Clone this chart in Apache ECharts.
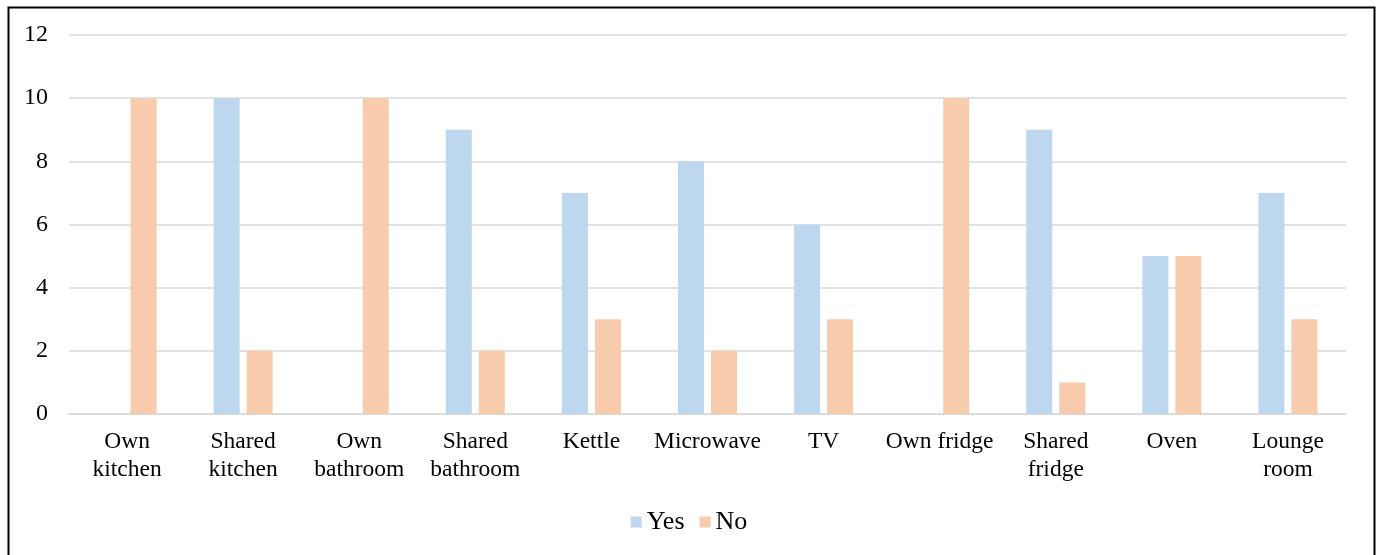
<!DOCTYPE html>
<html>
<head>
<meta charset="utf-8">
<script src="https://cdn.jsdelivr.net/npm/echarts@6/dist/echarts.min.js"></script>
<style>
  html, body { margin: 0; padding: 0; background: #fff; }
  #chart { width: 1378px; height: 555px; }
</style>
</head>
<body>
<div id="chart"></div>
<script>
// Facilities: counts of Yes / No answers
const categories = ['Own\nkitchen', 'Shared\nkitchen', 'Own\nbathroom', 'Shared\nbathroom', 'Kettle', 'Microwave', 'TV', 'Own fridge', 'Shared\nfridge', 'Oven', 'Lounge\nroom'];
const yesValues = [0, 10, 0, 9, 7, 8, 6, 0, 9, 5, 7];
const noValues = [10, 2, 10, 2, 3, 2, 3, 10, 1, 5, 3];
const seriesNames = ['Yes', 'No'];

const FONT = '"Liberation Serif", "Times New Roman", serif';

const chart = echarts.init(document.getElementById('chart'));
chart.setOption({
  animation: false,
  textStyle: { fontFamily: FONT },
  graphic: [{
    type: 'rect',
    left: 6, top: 5,
    shape: { width: 1366, height: 580 },
    style: { fill: 'none', stroke: '#000', lineWidth: 2 },
    silent: true
  }],
  grid: { left: 69, right: 32, top: 35, bottom: 141, containLabel: false },
  legend: {
    top: 504,
    left: 'center',
    itemWidth: 11, itemHeight: 11, itemGap: 15,
    icon: 'rect',
    textStyle: { fontFamily: FONT, fontSize: 26, color: '#000' },
    data: seriesNames
  },
  xAxis: {
    type: 'category',
    data: categories,
    axisLine: { lineStyle: { color: '#d9d9d9', width: 1.5 } },
    axisTick: { show: false },
    axisLabel: { fontFamily: FONT, fontSize: 23.5, color: '#000', lineHeight: 28, margin: 14, interval: 0 }
  },
  yAxis: {
    type: 'value',
    min: 0, max: 12, interval: 2,
    axisLine: { show: false },
    axisTick: { show: false },
    splitLine: { lineStyle: { color: '#d9d9d9', width: 1.5 } },
    axisLabel: { fontFamily: FONT, fontSize: 24, color: '#000', margin: 21 }
  },
  series: [
    { name: seriesNames[0], type: 'bar', data: yesValues, barWidth: 26, barGap: '27%', itemStyle: { color: '#BDD7EE' } },
    { name: seriesNames[1], type: 'bar', data: noValues, barWidth: 26, itemStyle: { color: '#F8CBAD' } }
  ]
});
</script>
</body>
</html>
